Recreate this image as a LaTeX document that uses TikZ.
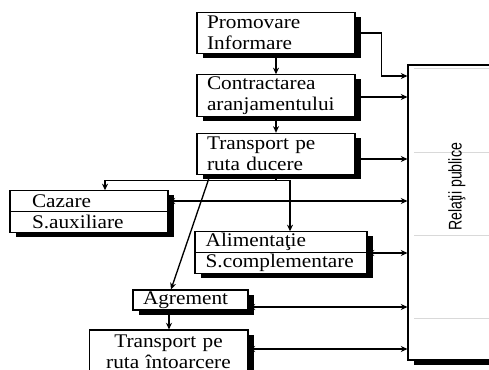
\documentclass[tikz,border=0pt]{standalone}
\usepackage{fontspec}
\setmainfont{Liberation Serif}[FakeStretch=1.1]
\newfontfamily\relfont{Liberation Sans}
\usetikzlibrary{positioning, arrows.meta, shadows}

\begin{document}
\begin{tikzpicture}[x=0.75pt, y=-0.75pt, >={Stealth[length=5pt, width=4.5pt]}, line width=1pt,
    every node/.style={font=\fontsize{14.5}{15.5}\selectfont},
    stage/.style={draw, fill=white, line width=0.8pt, align=left, inner ysep=1pt, minimum height=31pt,
      drop shadow={shadow xshift=4.5pt, shadow yshift=-3.5pt, fill=black, opacity=1}},
    tablerule/.style={draw=black!15, line width=0.6pt}]
  \useasboundingbox (0,0) rectangle (489,370);

  \node[stage, text width=103.5pt, inner xsep=7.5pt] (prom) at (276,33) {Promovare\\Informare};
  \node[stage, text width=103.5pt, inner xsep=7.5pt] (contr) at (276,95.5) {Contractarea\\aranjamentului};
  \node[stage, text width=103.5pt, inner xsep=7.5pt] (trans) at (276,154) {Transport pe\\ruta ducere};
  \node[stage, text width=85.5pt, inner xsep=16.5pt] (caz) at (89,211.5) {Cazare\\S.auxiliare};
  \node[stage, text width=113pt, inner xsep=8pt] (alim) at (281,252.5) {Alimentaţie\\S.complementare};
  \node[stage, text width=71.25pt, inner xsep=7.5pt, inner ysep=0pt, minimum height=15pt] (agr) at (190.5,300) {Agrement};
  \node[stage, text width=104pt, inner xsep=7.6pt, align=center, minimum height=33pt] (tint) at (168.5,352) {Transport pe\\ruta întoarcere};
  \node[stage, minimum width=73.5pt, minimum height=221.25pt] (rel) at (457,212.5) {};

  \foreach \y in {68,152,235,318}
    \draw[tablerule] (414,\y) -- (rel.east |- 0,\y);
  \node[rotate=90, font=\relfont\fontsize{10.6}{12}\selectfont] (reltext) at (457,187) {\scalebox{1}[1.3]{Relaţii publice}};

  \draw[line width=0.6pt] (caz.west) -- (caz.east);
  \draw[line width=0.6pt] (alim.west) -- (alim.east);

  \draw[->] (prom) -- (contr);
  \draw[->] (contr) -- (trans);
  \draw[->] (prom.east) -- ++(26,0) |- (rel.west |- 0,76);
  \draw[->] (contr.east |- 0,97) -- (rel.west |- 0,97);
  \draw[->] (trans.east |- 0,159) -- (rel.west |- 0,159);
  \draw[->] (trans.south) -- ++(0,5) -| (caz.north -| 105,0);
  \draw[->] (trans.south) -- ++(0,5) -| (alim.north -| 290,0);
  \draw[->] (trans.south -| 210,0) -- (agr.north -| 171,0);
  \draw[->] (agr.south -| 169,0) -- (tint.north -| 169,0);
  \draw[<->] (caz.east |- 0,201) -- (rel.west |- 0,201);
  \draw[<->] (alim.east |- 0,253) -- (rel.west |- 0,253);
  \draw[<->] (agr.east |- 0,307) -- (rel.west |- 0,307);
  \draw[<->] (tint.east |- 0,349) -- (rel.west |- 0,349);
\end{tikzpicture}
\end{document}
